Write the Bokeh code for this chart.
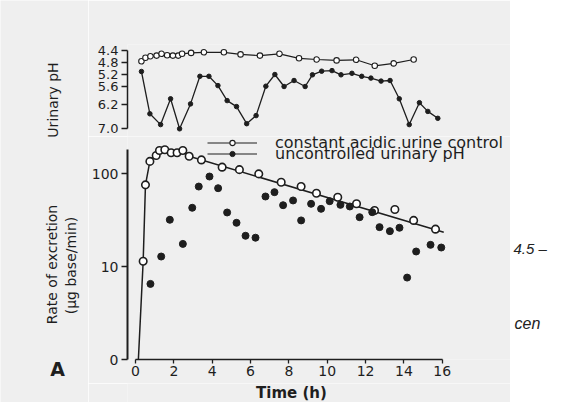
import numpy as np
from bokeh.plotting import figure
from bokeh.models import (Range1d, FixedTicker, PrintfTickFormatter, CustomJSTickFormatter,
                          Label, Legend, LegendItem)
from bokeh.layouts import column, row
from bokeh.embed import file_html
from bokeh.resources import INLINE

# ---------------- data ----------------
time_ticks = [0, 2, 4, 6, 8, 10, 12, 14, 16]
ph_ticks = [4.4, 4.8, 5.2, 5.6, 6.2, 7.0]
rate_ticks = [1, 10, 100]          # lowest tick is the broken-axis "0"

# urinary pH, constant acidic urine control (open circles)
ph_const_t = [0.31, 0.52, 0.78, 1.10, 1.36, 1.65, 1.95, 2.23, 2.43, 2.90, 3.57, 4.61,
              5.48, 6.49, 7.51, 8.53, 9.45, 10.49, 11.51, 12.48, 13.47, 14.51]
ph_const = [4.76, 4.64, 4.59, 4.57, 4.51, 4.56, 4.57, 4.57, 4.51, 4.48, 4.46, 4.46,
            4.53, 4.57, 4.51, 4.66, 4.70, 4.73, 4.71, 4.91, 4.83, 4.70]

# urinary pH, uncontrolled (filled dots)
ph_unc_t = [0.31, 0.75, 1.31, 1.83, 2.30, 2.87, 3.36, 3.83, 4.30, 4.78, 5.27, 5.80,
            6.29, 6.80, 7.27, 7.75, 8.27, 8.85, 9.23, 9.71, 10.25, 10.72, 11.29, 11.80,
            12.28, 12.81, 13.28, 13.76, 14.28, 14.81, 15.25, 15.77]
ph_unc = [5.10, 6.51, 6.87, 6.01, 7.01, 6.18, 5.26, 5.26, 5.57, 6.07, 6.27, 6.84,
          6.57, 5.59, 5.20, 5.60, 5.40, 5.60, 5.21, 5.09, 5.07, 5.21, 5.16, 5.26,
          5.32, 5.42, 5.40, 6.01, 6.87, 6.14, 6.43, 6.66]

# rate of excretion, constant acidic urine (open circles)
rate_const_t = [0.40, 0.52, 0.75, 1.08, 1.25, 1.53, 1.86, 2.17, 2.47, 2.80, 3.44, 4.52,
                5.42, 6.43, 7.60, 8.64, 9.44, 10.55, 11.53, 12.47, 13.53, 14.51, 15.65]
rate_const = [11.4, 75.5, 135, 156, 177, 180, 167, 167, 177, 153, 140, 117,
              110, 99, 80.6, 72.4, 61.4, 55.6, 47.2, 40.0, 41.0, 31.3, 25.2]

# fitted curve through the constant-pH data
fit_t = [0.15, 0.40, 0.52, 0.75, 1.00, 1.25, 1.60, 2.00, 2.45, 2.80, 16.08]
fit_v = [0, 11.4, 75.5, 135, 160, 177, 180, 172, 176, 153, 23.4]

# rate of excretion, uncontrolled urinary pH (filled dots)
rate_unc_t = [0.78, 1.34, 1.79, 2.47, 2.96, 3.30, 3.86, 4.31, 4.78, 5.27, 5.74, 6.26,
              6.78, 7.25, 7.70, 8.22, 8.64, 9.16, 9.68, 10.13, 10.69, 11.18, 11.69,
              12.35, 12.73, 13.27, 13.77, 14.17, 14.64, 15.39, 15.95]
rate_unc = [6.5, 12.8, 31.8, 17.5, 42.8, 72.4, 92.8, 69.5, 38.1, 29.5, 21.4, 20.4,
            56.6, 63.0, 45.6, 51.3, 31.3, 47.2, 41.7, 50.4, 46.0, 44.2, 33.9,
            38.4, 26.5, 24.0, 26.1, 7.6, 14.5, 17.1, 16.0]

# ---------------- style / layout ----------------
BG = "#efefef"
INK = "#1e1e1e"
FONT = "DejaVu Sans"
W_TOTAL, H_TOTAL = 573, 402
LEFT_STRIP = 88                     # strip holding the rotated axis titles
PANEL_W = 422                       # width of the stacked panels
RIGHT_STRIP = W_TOTAL - LEFT_STRIP - PANEL_W
BORDER_L = 39
FRAME_W = PANEL_W - BORDER_L
PX_PER_H = 19.17
x_start = -8 / PX_PER_H
X_RANGE = (x_start, x_start + FRAME_W / PX_PER_H)
SPLIT = 136                         # boundary between pH panel and rate panel
AXIS_Y = 359                        # x axis line of the rate panel
BOTTOM_STRIP_TOP = 383

def base_fig(**kw):
    p = figure(toolbar_location=None, output_backend="svg", **kw)
    p.xgrid.visible = False
    p.ygrid.visible = False
    p.outline_line_color = None
    p.background_fill_color = BG
    p.border_fill_color = BG
    return p

def style_axis(ax, size="14px", lw=1.5):
    ax.axis_line_color = INK
    ax.axis_line_width = lw
    ax.major_tick_line_color = INK
    ax.major_tick_line_width = 1.3
    ax.minor_tick_line_color = None
    ax.major_label_text_font = FONT
    ax.major_label_text_font_size = size
    ax.major_label_text_color = INK

# ---- top panel: urinary pH ----
ph_top = 4.2
ph_bottom = ph_top + (SPLIT - 44) / 30.0
p1 = base_fig(width=PANEL_W, height=SPLIT,
              x_range=Range1d(*X_RANGE), y_range=Range1d(ph_bottom, ph_top),
              x_axis_location=None,
              min_border_left=BORDER_L, min_border_right=0,
              min_border_top=44, min_border_bottom=0)
ya = p1.yaxis[0]
ya.ticker = FixedTicker(ticks=ph_ticks)
ya.formatter = PrintfTickFormatter(format="%.1f")
ya.bounds = (ph_ticks[0], ph_ticks[-1])
ya.major_tick_out = 6
ya.major_tick_in = 0
ya.major_label_standoff = 3
style_axis(ya, size="13px")

p1.line(ph_const_t, ph_const, line_color=INK, line_width=1.2)
p1.scatter(ph_const_t, ph_const, marker="circle", size=5.5, fill_color="white",
           line_color=INK, line_width=1.1)
p1.line(ph_unc_t, ph_unc, line_color=INK, line_width=1.3)
p1.scatter(ph_unc_t, ph_unc, marker="circle", size=4.5, fill_color=INK, line_color=INK)

# ---- bottom panel: rate of excretion ----
rate_top = 10 ** ((AXIS_Y - SPLIT) / 93.0)
p2 = base_fig(width=PANEL_W, height=BOTTOM_STRIP_TOP - SPLIT,
              x_range=Range1d(*X_RANGE), y_range=Range1d(1, rate_top), y_axis_type="log",
              min_border_left=BORDER_L, min_border_right=0,
              min_border_top=0, min_border_bottom=BOTTOM_STRIP_TOP - AXIS_Y)
xa = p2.xaxis[0]
xa.ticker = FixedTicker(ticks=time_ticks)
xa.bounds = (time_ticks[0], time_ticks[-1])
xa.major_tick_out = 4
xa.major_tick_in = 0
xa.major_label_standoff = 2
style_axis(xa, size="14px")

yb = p2.yaxis[0]
yb.ticker = FixedTicker(ticks=rate_ticks)
yb.formatter = CustomJSTickFormatter(code="return tick <= 1 ? '0' : tick.toFixed(0);")
yb.bounds = (1, 181)
yb.major_tick_out = 6
yb.major_tick_in = 0
yb.major_label_standoff = 3
style_axis(yb, size="14px", lw=2)

# zero values are drawn on the broken-axis baseline (value 1 of the log scale)
fit_plot = [max(v, 1.0) for v in fit_v]
p2.line(fit_t, fit_plot, line_color=INK, line_width=1.5)
p2.scatter(rate_const_t, rate_const, marker="circle", size=7.5, fill_color="white",
           line_color=INK, line_width=1.6)
p2.scatter(rate_unc_t, rate_unc, marker="circle", size=7, fill_color=INK, line_color=INK)

# legend-only glyphs (sample line with small marker, as in the pH panel); NaN = not drawn
nan = [float("nan")]
lg1_line = p2.line(x=nan, y=nan, line_color=INK, line_width=1.2)
lg1_mark = p2.scatter(x=nan, y=nan, marker="circle", size=5.5, fill_color="white",
                      line_color=INK, line_width=1.1)
lg2_line = p2.line(x=nan, y=nan, line_color=INK, line_width=1.2)
lg2_mark = p2.scatter(x=nan, y=nan, marker="circle", size=4.5, fill_color=INK, line_color=INK)

def make_legend(label, rends, loc):
    return Legend(items=[LegendItem(label=label, renderers=rends)], location=loc,
                  glyph_width=50, glyph_height=13, label_height=20, label_standoff=18,
                  padding=0, margin=0, border_line_color=None, background_fill_alpha=0,
                  label_text_font=FONT, label_text_font_size="16px", label_text_color=INK)

p2.add_layout(make_legend("constant acidic urine control", [lg1_line, lg1_mark],
                          (80, AXIS_Y - 152.5)))
p2.add_layout(make_legend("uncontrolled urinary pH", [lg2_line, lg2_mark],
                          (80, AXIS_Y - 163.5)))

# ---- text strips ----
def strip_fig(width, height, fill):
    p = figure(width=width, height=height, x_range=Range1d(0, 1), y_range=Range1d(0, 1),
               x_axis_location=None, y_axis_location=None, toolbar_location=None,
               output_backend="svg", min_border_left=0, min_border_right=0,
               min_border_top=0, min_border_bottom=0)
    p.xgrid.visible = False
    p.ygrid.visible = False
    p.outline_line_color = None
    p.background_fill_color = fill
    p.border_fill_color = fill
    return p

# left strip: rotated axis titles and panel letter
pl = strip_fig(LEFT_STRIP, H_TOTAL, BG)
def vlabel(text, x, y):
    pl.add_layout(Label(x=x, y=y, x_units="screen", y_units="screen", text=text,
                        angle=np.pi / 2, text_align="center", text_baseline="middle",
                        text_font=FONT, text_font_size="14px", text_color=INK))
vlabel("Urinary pH", 52, H_TOTAL - 99.5)
vlabel("Rate of excretion", 51, H_TOTAL - 264)
vlabel("(\u00b5g base/min)", 70, H_TOTAL - 265)
pl.add_layout(Label(x=57, y=H_TOTAL - 368, x_units="screen", y_units="screen", text="A",
                    text_align="center", text_baseline="middle", text_font=FONT,
                    text_font_style="bold", text_font_size="19px", text_color=INK))

# bottom strip: x-axis title (its frame is aligned with the panel frames above)
pb = strip_fig(PANEL_W, H_TOTAL - BOTTOM_STRIP_TOP, BG)
pb.add_layout(Label(x=291 - LEFT_STRIP - BORDER_L, y=H_TOTAL - 392, x_units="screen",
                    y_units="screen", text="Time (h)", text_align="center",
                    text_baseline="middle", text_font=FONT, text_font_style="bold",
                    text_font_size="15px", text_color=INK))

# right strip: stray page text
pr = strip_fig(RIGHT_STRIP, H_TOTAL, "white")
pr.add_layout(Label(x=3, y=H_TOTAL - 248, x_units="screen", y_units="screen", text="4.5  \u2013",
                    text_align="left", text_baseline="middle", text_font="Liberation Sans",
                    text_font_style="italic", text_font_size="15px", text_color="#222222"))
pr.add_layout(Label(x=4, y=H_TOTAL - 323, x_units="screen", y_units="screen", text="cen",
                    text_align="left", text_baseline="middle", text_font="Liberation Sans",
                    text_font_style="italic", text_font_size="16px", text_color="#222222"))

layout = row(pl, column(p1, p2, pb), pr)
open("out.html", "w").write(file_html(layout, INLINE))
